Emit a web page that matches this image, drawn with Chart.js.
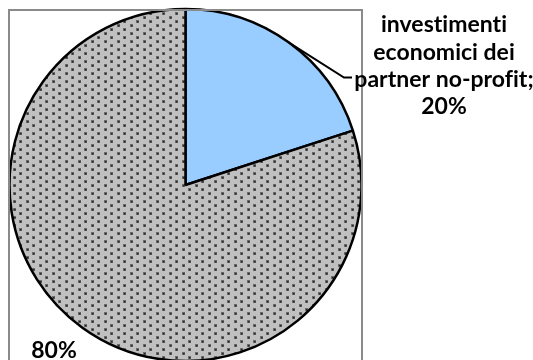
<!DOCTYPE html>
<html>
<head>
<meta charset="utf-8">
<script src="https://cdn.jsdelivr.net/npm/chart.js@4/dist/chart.umd.min.js"></script>
<style>
  html, body { margin: 0; padding: 0; background: #ffffff; }
  #wrap { width: 533px; height: 360px; position: relative; }
</style>
</head>
<body>
<div id="wrap"><canvas id="chart"></canvas></div>
<script>
// Slice categories and their shares (percent)
const categories = ['investimenti economici dei partner no-profit', ''];
const values = [20, 80];
// Wrapped callout text for each slice (category part; the percentage is appended)
const labelLines = [['investimenti', 'economici dei', 'partner no-profit;'], []];

// Dotted grey fill for the larger slice
function dottedPattern() {
  const c = document.createElement('canvas');
  c.width = 13; c.height = 8;
  const g = c.getContext('2d');
  g.fillStyle = '#c0c0c0';
  g.fillRect(0, 0, 13, 8);
  g.fillStyle = '#6a6a6a';
  g.fillRect(0, 0, 3, 3);
  g.fillRect(6, 4, 3, 3);
  g.fillStyle = '#262626';
  g.fillRect(1, 1, 1.5, 1.5);
  g.fillRect(7, 5, 1.5, 1.5);
  return g.createPattern(c, 'repeat');
}

const FONT = 'bold 23px Lato, "Open Sans", sans-serif';

// Frame around the plot area plus the two slice callouts
const calloutPlugin = {
  id: 'callouts',
  afterDatasetsDraw(chart) {
    const ctx = chart.ctx;
    const area = chart.chartArea;
    const arcs = chart.getDatasetMeta(0).data;
    ctx.save();

    // plot area frame (runs past the bottom edge)
    ctx.strokeStyle = '#8a8a8a';
    ctx.lineWidth = 2;
    ctx.beginPath();
    ctx.moveTo(area.left, area.bottom + 10);
    ctx.lineTo(area.left, area.top);
    ctx.lineTo(area.right, area.top);
    ctx.lineTo(area.right, area.bottom + 10);
    ctx.stroke();

    ctx.font = FONT;
    ctx.letterSpacing = '0.01px';
    ctx.fillStyle = '#000000';
    ctx.textAlign = 'center';
    ctx.textBaseline = 'middle';

    // first slice: text block to the right with a leader line
    const a0 = arcs[0];
    const mid0 = (a0.startAngle + a0.endAngle) / 2;
    const ex = a0.x + Math.cos(mid0) * a0.outerRadius;
    const ey = a0.y + Math.sin(mid0) * a0.outerRadius;
    const lines0 = labelLines[0].concat([values[0] + '%']);
    const lineH = 27.3;
    const textX = area.right + 82;
    const textTop = area.top + 15;
    const elbowY = textTop + lineH * 2 - 2;
    ctx.strokeStyle = '#000000';
    ctx.lineWidth = 2;
    ctx.beginPath();
    ctx.moveTo(ex, ey);
    ctx.lineTo(area.right - 18, elbowY);
    ctx.lineTo(area.right - 10, elbowY);
    ctx.stroke();
    lines0.forEach((t, i) => ctx.fillText(t, textX, textTop + i * lineH));

    // second slice: percentage only, lower-left corner
    ctx.fillText(values[1] + '%', area.left + 45, area.bottom - 9);
    ctx.restore();
  }
};

new Chart(document.getElementById('chart'), {
  type: 'pie',
  data: {
    labels: categories,
    datasets: [{
      data: values,
      backgroundColor: ['#99ccff', dottedPattern()],
      borderColor: '#000000',
      borderWidth: 2.5,
      radius: 176
    }]
  },
  options: {
    responsive: true,
    maintainAspectRatio: false,
    animation: false,
    layout: { padding: { left: 9, right: 171, top: 10, bottom: 0 } },
    plugins: {
      legend: { display: false },
      tooltip: { enabled: false }
    }
  },
  plugins: [calloutPlugin]
});
</script>
</body>
</html>
